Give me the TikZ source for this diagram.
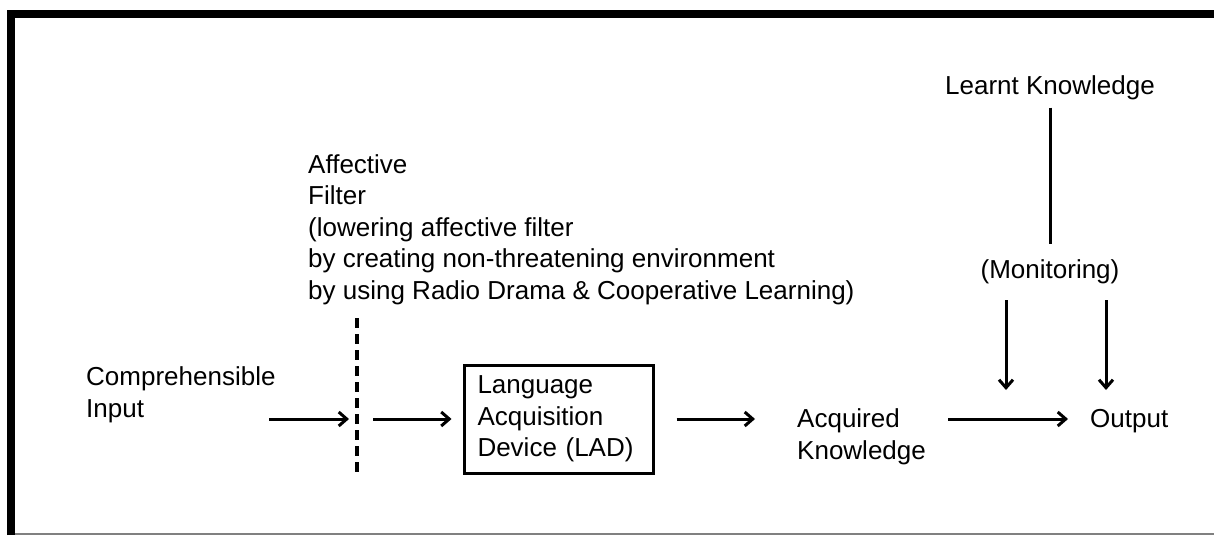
\documentclass[tikz,border=0pt]{standalone}
\usepackage{fontspec}
\setmainfont{Liberation Sans}
\usetikzlibrary{arrows.meta}

\begin{document}
\begin{tikzpicture}[x=1pt, y=-1pt,%
% common options for the texts:
txt/.style = {align=left, anchor=base west, inner sep=0,
            font=\fontsize{26}{31.5}\selectfont},
% common options for the arrows:
arr/.style = {-{Straight Barb[length=8pt,width=14pt]}, line width=3pt},
% the box of the LAD:
ladbox/.style = {draw, line width=3pt, text width=162pt, inner xsep=13.5pt,
            inner ysep=0, minimum height=108pt, align=left,
            font=\fontsize{26}{31.5}\selectfont}]
\useasboundingbox (0,0) rectangle (1214,535);
% frame
\draw[line width=8pt, miter limit=10] (11,535) -- (11,14) -- (1214,14);
\draw[gray, line width=1.5pt] (15,534) -- (1214,534);
% nodes
\node[txt] (input) at (86,417) {Comprehensible\\Input};
\node[txt] (filter) at (308,299) {Affective\\Filter\\(lowering affective filter\\by creating non-threatening environment\\by using Radio Drama \& Cooperative Learning)};
\node[ladbox] (lad) at (558.5,419) {Language\\Acquisition\\Device (LAD)};
\node[txt] (acq) at (797,459) {Acquired\\Knowledge};
\node[txt] (out) at (1090,427) {Output};
\node[txt, anchor=base] (learnt) at (1050,94) {Learnt Knowledge};
\node[txt, anchor=base] (mon) at (1050,278) {(Monitoring)};
\coordinate (ftop) at (357,318);
\coordinate (fbot) at (357,472);
\coordinate (fmid) at (357,419);
\coordinate (inarr) at (269,419);
\coordinate (m1) at (1006,300);
\coordinate (m2) at (1106,300);
% filter line
\draw[line width=3.5pt, dash pattern=on 10pt off 6pt] (ftop) -- (fbot);
% arrows
\draw[arr] (inarr) -- ([xshift=-8pt]fmid);
\draw[arr, shorten <=16pt, shorten >=11pt] (fmid) -- (lad.west);
\draw[arr, shorten <=22pt, shorten >=42pt] (lad.east) -- (lad.east -| acq.west);
\draw[arr, shorten <=22pt, shorten >=22pt] (lad.east -| acq.east) -- (lad.east -| out.west);
\draw[line width=3pt, shorten <=8pt, shorten >=15pt] (learnt.south) -- (mon.north);
\draw[arr] (m1) -- ++(0,90);
\draw[arr] (m2) -- ++(0,90);
\end{tikzpicture}
\end{document}
